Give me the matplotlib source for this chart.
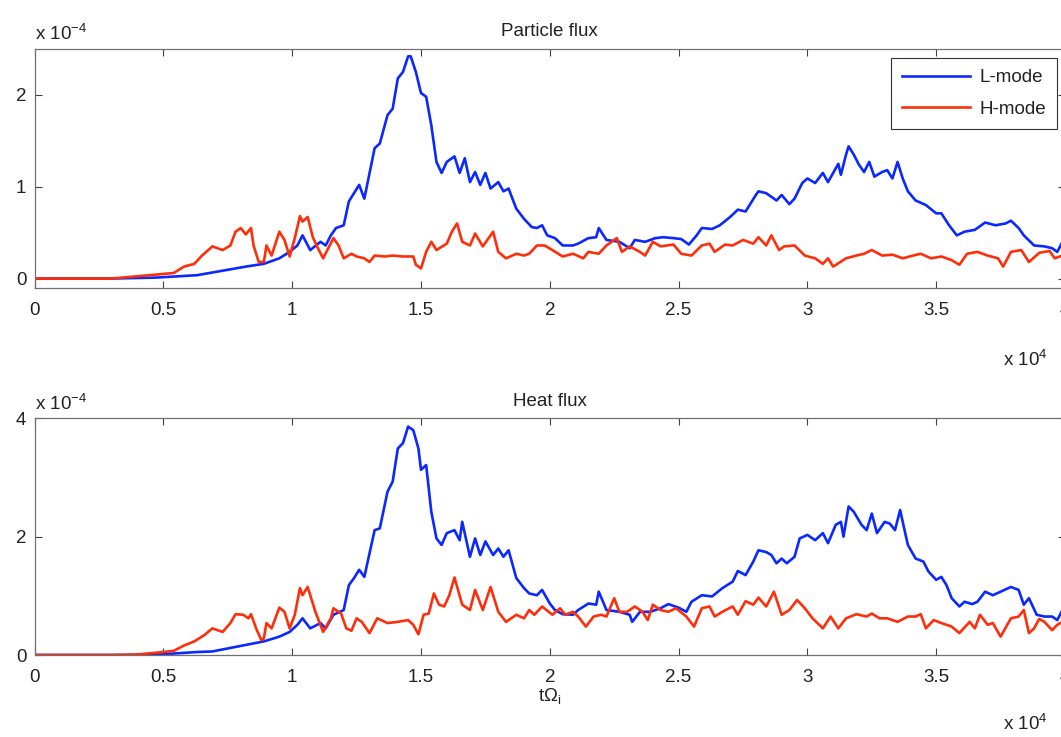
import matplotlib
matplotlib.use("Agg")
import matplotlib.pyplot as plt

plt.rcParams['font.family'] = ['Liberation Sans', 'DejaVu Sans']
plt.rcParams['mathtext.fontset'] = 'custom'
plt.rcParams['mathtext.rm'] = 'Liberation Sans'
plt.rcParams['mathtext.it'] = 'Liberation Sans'
plt.rcParams['mathtext.default'] = 'regular'

# ---------------- data (t in units of 1e4, flux in units of 1e-4) ----------------
pf_L_t = [0, 0.3, 0.47, 0.63, 0.76, 0.82, 0.89, 0.95, 0.99, 1.02, 1.04, 1.07, 1.11, 1.13,
          1.15, 1.17, 1.2, 1.22, 1.26, 1.28, 1.32, 1.34, 1.37, 1.39, 1.41, 1.43, 1.45, 1.46,
          1.48, 1.5, 1.52, 1.54, 1.56, 1.58, 1.6, 1.63, 1.65, 1.67, 1.69, 1.71, 1.73, 1.75,
          1.77, 1.8, 1.82, 1.84, 1.87, 1.9, 1.93, 1.95, 1.97, 1.99, 2.02, 2.05, 2.09, 2.11,
          2.15, 2.18, 2.19, 2.22, 2.27, 2.31, 2.33, 2.37, 2.41, 2.44, 2.48, 2.51, 2.54, 2.57,
          2.59, 2.63, 2.66, 2.7, 2.73, 2.76, 2.8, 2.81, 2.84, 2.88, 2.9, 2.93, 2.95, 2.98,
          3.0, 3.03, 3.06, 3.08, 3.1, 3.12, 3.13, 3.15, 3.16, 3.18, 3.2, 3.22, 3.24, 3.26,
          3.29, 3.31, 3.33, 3.35, 3.37, 3.39, 3.42, 3.46, 3.5, 3.52, 3.55, 3.58, 3.61, 3.65,
          3.69, 3.73, 3.77, 3.79, 3.82, 3.84, 3.88, 3.92, 3.95, 3.97, 3.99, 4.0]
pf_L_v = [0, 0, 0.01, 0.036, 0.1, 0.13, 0.16, 0.22, 0.29, 0.36, 0.47, 0.31, 0.4, 0.36,
          0.47, 0.55, 0.58, 0.84, 1.02, 0.87, 1.42, 1.47, 1.78, 1.85, 2.18, 2.25, 2.42, 2.42,
          2.25, 2.02, 1.98, 1.67, 1.27, 1.15, 1.27, 1.33, 1.15, 1.31, 1.05, 1.16, 1.02, 1.15,
          0.98, 1.05, 0.95, 0.98, 0.76, 0.65, 0.56, 0.55, 0.58, 0.47, 0.44, 0.36, 0.36, 0.38,
          0.44, 0.45, 0.55, 0.42, 0.4, 0.33, 0.42, 0.4, 0.44, 0.45, 0.44, 0.43, 0.37, 0.47,
          0.55, 0.54, 0.58, 0.67, 0.75, 0.73, 0.91, 0.95, 0.93, 0.85, 0.91, 0.81, 0.87, 1.04,
          1.09, 1.04, 1.15, 1.05, 1.15, 1.25, 1.13, 1.35, 1.44, 1.35, 1.24, 1.16, 1.27, 1.11,
          1.16, 1.18, 1.09, 1.27, 1.09, 0.95, 0.85, 0.8, 0.71, 0.71, 0.58, 0.47, 0.51, 0.53,
          0.61, 0.58, 0.6, 0.63, 0.55, 0.47, 0.36, 0.35, 0.33, 0.29, 0.4, 0.42]

pf_H_t = [0, 0.3, 0.46, 0.54, 0.58, 0.62, 0.65, 0.69, 0.73, 0.76, 0.78, 0.8, 0.82, 0.84,
          0.85, 0.87, 0.89, 0.9, 0.92, 0.95, 0.97, 0.99, 1.01, 1.03, 1.04, 1.06, 1.08, 1.1,
          1.12, 1.14, 1.16, 1.18, 1.2, 1.23, 1.25, 1.28, 1.3, 1.32, 1.36, 1.39, 1.43, 1.47,
          1.48, 1.5, 1.52, 1.54, 1.56, 1.6, 1.62, 1.64, 1.66, 1.69, 1.71, 1.74, 1.78, 1.8,
          1.83, 1.87, 1.9, 1.92, 1.95, 1.98, 2.01, 2.05, 2.09, 2.13, 2.15, 2.19, 2.22, 2.26,
          2.28, 2.31, 2.35, 2.37, 2.4, 2.43, 2.48, 2.51, 2.55, 2.59, 2.62, 2.64, 2.68, 2.71,
          2.75, 2.79, 2.81, 2.84, 2.86, 2.89, 2.91, 2.95, 2.99, 3.03, 3.06, 3.08, 3.1, 3.15,
          3.19, 3.22, 3.25, 3.29, 3.33, 3.37, 3.41, 3.44, 3.48, 3.52, 3.56, 3.59, 3.62, 3.66,
          3.7, 3.74, 3.76, 3.79, 3.83, 3.86, 3.9, 3.94, 3.96, 3.99, 4.0]
pf_H_v = [0, 0, 0.04, 0.06, 0.13, 0.16, 0.25, 0.35, 0.31, 0.36, 0.51, 0.55, 0.48, 0.55,
          0.36, 0.18, 0.18, 0.36, 0.25, 0.51, 0.42, 0.24, 0.44, 0.68, 0.62, 0.67, 0.45, 0.33,
          0.22, 0.33, 0.44, 0.36, 0.22, 0.27, 0.24, 0.22, 0.18, 0.25, 0.24, 0.25, 0.24, 0.24,
          0.15, 0.11, 0.29, 0.4, 0.31, 0.38, 0.51, 0.6, 0.4, 0.36, 0.49, 0.35, 0.51, 0.29,
          0.22, 0.27, 0.25, 0.27, 0.36, 0.36, 0.31, 0.24, 0.27, 0.22, 0.29, 0.27, 0.36, 0.44,
          0.29, 0.35, 0.29, 0.25, 0.4, 0.35, 0.37, 0.27, 0.25, 0.36, 0.38, 0.29, 0.37, 0.36,
          0.42, 0.38, 0.45, 0.36, 0.47, 0.31, 0.35, 0.36, 0.25, 0.22, 0.16, 0.22, 0.13, 0.22,
          0.25, 0.27, 0.31, 0.25, 0.26, 0.22, 0.25, 0.27, 0.22, 0.24, 0.2, 0.15, 0.27, 0.29,
          0.25, 0.22, 0.13, 0.29, 0.31, 0.18, 0.28, 0.3, 0.22, 0.25, 0.3]

hf_L_t = [0, 0.3, 0.45, 0.56, 0.63, 0.69, 0.76, 0.82, 0.89, 0.95, 0.99, 1.02, 1.04, 1.07,
          1.11, 1.13, 1.16, 1.2, 1.22, 1.24, 1.26, 1.28, 1.32, 1.34, 1.37, 1.39, 1.41, 1.43,
          1.45, 1.47, 1.49, 1.5, 1.52, 1.54, 1.56, 1.58, 1.6, 1.63, 1.65, 1.66, 1.69, 1.71,
          1.73, 1.75, 1.78, 1.8, 1.82, 1.84, 1.87, 1.9, 1.92, 1.95, 1.97, 2.0, 2.02, 2.05,
          2.09, 2.11, 2.15, 2.18, 2.19, 2.22, 2.27, 2.31, 2.32, 2.35, 2.39, 2.43, 2.46, 2.5,
          2.53, 2.55, 2.59, 2.63, 2.67, 2.71, 2.73, 2.76, 2.79, 2.81, 2.84, 2.86, 2.88, 2.9,
          2.92, 2.95, 2.97, 3.0, 3.03, 3.06, 3.08, 3.11, 3.13, 3.14, 3.16, 3.18, 3.21, 3.23,
          3.25, 3.27, 3.3, 3.32, 3.34, 3.36, 3.37, 3.39, 3.42, 3.45, 3.47, 3.5, 3.52, 3.54,
          3.56, 3.59, 3.61, 3.64, 3.66, 3.69, 3.72, 3.75, 3.79, 3.82, 3.84, 3.86, 3.89, 3.92,
          3.95, 3.97, 3.99, 4.0]
hf_L_v = [0, 0, 0.0, 0.03, 0.05, 0.06, 0.12, 0.17, 0.23, 0.31, 0.39, 0.51, 0.62, 0.45,
          0.54, 0.45, 0.68, 0.76, 1.18, 1.3, 1.44, 1.32, 2.11, 2.14, 2.76, 2.93, 3.49, 3.58,
          3.86, 3.8, 3.49, 3.13, 3.21, 2.42, 1.97, 1.86, 2.06, 2.11, 1.94, 2.25, 1.66, 1.97,
          1.69, 1.92, 1.69, 1.8, 1.66, 1.77, 1.3, 1.13, 1.04, 1.01, 1.1, 0.87, 0.76, 0.69,
          0.68, 0.76, 0.87, 0.85, 1.07, 0.76, 0.73, 0.68, 0.56, 0.73, 0.73, 0.79, 0.86, 0.8,
          0.73, 0.9, 1.01, 0.99, 1.13, 1.24, 1.42, 1.35, 1.58, 1.77, 1.74, 1.69, 1.55, 1.63,
          1.55, 1.66, 1.97, 2.03, 1.94, 2.06, 1.89, 2.2, 2.25, 2.0, 2.51, 2.42, 2.2, 2.11,
          2.39, 2.06, 2.25, 2.22, 2.11, 2.45, 2.25, 1.86, 1.63, 1.58, 1.41, 1.27, 1.32, 1.18,
          0.96, 0.82, 0.9, 0.86, 0.9, 1.07, 1.01, 1.07, 1.15, 1.1, 0.85, 0.96, 0.68, 0.65,
          0.65, 0.59, 0.76, 0.8]

hf_H_t = [0, 0.3, 0.4, 0.5, 0.54, 0.58, 0.62, 0.66, 0.69, 0.73, 0.76, 0.78, 0.81, 0.83,
          0.84, 0.86, 0.88, 0.89, 0.9, 0.92, 0.95, 0.97, 0.99, 1.01, 1.03, 1.04, 1.06, 1.09,
          1.12, 1.15, 1.16, 1.19, 1.21, 1.23, 1.25, 1.27, 1.3, 1.33, 1.37, 1.41, 1.45, 1.47,
          1.49, 1.51, 1.53, 1.55, 1.57, 1.59, 1.61, 1.63, 1.66, 1.69, 1.71, 1.74, 1.77, 1.8,
          1.83, 1.87, 1.9, 1.92, 1.94, 1.97, 2.01, 2.04, 2.06, 2.09, 2.11, 2.14, 2.17, 2.2,
          2.22, 2.25, 2.27, 2.3, 2.33, 2.36, 2.38, 2.4, 2.43, 2.46, 2.49, 2.53, 2.56, 2.59,
          2.62, 2.64, 2.67, 2.71, 2.73, 2.76, 2.79, 2.81, 2.84, 2.87, 2.9, 2.93, 2.96, 2.99,
          3.02, 3.06, 3.09, 3.12, 3.15, 3.19, 3.23, 3.25, 3.28, 3.31, 3.35, 3.39, 3.42, 3.44,
          3.46, 3.49, 3.52, 3.56, 3.59, 3.63, 3.65, 3.67, 3.7, 3.72, 3.75, 3.79, 3.82, 3.84,
          3.86, 3.88, 3.9, 3.92, 3.95, 3.97, 3.99, 4.0]
hf_H_v = [0, 0, 0.01, 0.05, 0.07, 0.16, 0.23, 0.34, 0.45, 0.39, 0.54, 0.69, 0.68, 0.62,
          0.69, 0.45, 0.25, 0.28, 0.54, 0.45, 0.8, 0.73, 0.45, 0.68, 1.13, 1.01, 1.15, 0.73,
          0.39, 0.62, 0.79, 0.7, 0.45, 0.41, 0.62, 0.56, 0.37, 0.62, 0.54, 0.56, 0.59, 0.51,
          0.35, 0.68, 0.7, 1.04, 0.85, 0.82, 1.01, 1.31, 0.85, 0.76, 1.1, 0.76, 1.15, 0.73,
          0.56, 0.68, 0.62, 0.76, 0.68, 0.82, 0.68, 0.79, 0.68, 0.73, 0.65, 0.48, 0.65, 0.68,
          0.65, 0.96, 0.73, 0.73, 0.82, 0.73, 0.59, 0.85, 0.76, 0.73, 0.79, 0.65, 0.48, 0.79,
          0.82, 0.65, 0.73, 0.82, 0.68, 0.91, 0.85, 0.97, 0.82, 1.07, 0.68, 0.76, 0.93, 0.79,
          0.62, 0.45, 0.65, 0.45, 0.62, 0.69, 0.65, 0.7, 0.62, 0.62, 0.56, 0.65, 0.65, 0.69,
          0.45, 0.59, 0.54, 0.48, 0.37, 0.56, 0.45, 0.68, 0.51, 0.54, 0.31, 0.62, 0.65, 0.76,
          0.37, 0.45, 0.61, 0.56, 0.42, 0.51, 0.56, 0.6]

titles = ["Particle flux", "Heat flux"]
series_labels = ["L-mode", "H-mode"]
x_ticks = [0, 0.5, 1, 1.5, 2, 2.5, 3, 3.5, 4]
x_ticklabels = ["0", "0.5", "1", "1.5", "2", "2.5", "3", "3.5", "4"]
y_ticks_top = [0, 1, 2]
y_ticks_bottom = [0, 2, 4]

# ---------------- figure ----------------
W, H = 1061, 737
fig = plt.figure(figsize=(W / 100, H / 100), dpi=100)

blue = '#0a28ff'
red = '#ff2e0a'
txt = '#222222'
spine = '#707070'
fs = 13.5


def px_axes(l, t, r, b):
    return [l / W, 1 - b / H, (r - l) / W, (b - t) / H]


ax1 = fig.add_axes(px_axes(34.6, 49, 1065, 287.7))
ax2 = fig.add_axes(px_axes(34.6, 418.3, 1065, 655))

lw = 1.9
ax1.plot(pf_L_t, pf_L_v, color=blue, lw=lw, label=series_labels[0])
ax1.plot(pf_H_t, pf_H_v, color=red, lw=lw, label=series_labels[1])
ax2.plot(hf_L_t, hf_L_v, color=blue, lw=lw)
ax2.plot(hf_H_t, hf_H_v, color=red, lw=lw)

ax1.set_ylim(-0.1, 2.5)
ax2.set_ylim(0, 4)
ax1.set_yticks(y_ticks_top)
ax2.set_yticks(y_ticks_bottom)

for ax, title in zip([ax1, ax2], titles):
    ax.set_xlim(0, 4)
    ax.set_xticks(x_ticks)
    ax.set_xticklabels(x_ticklabels)
    ax.tick_params(direction='in', length=5, width=0.8, color='#404040',
                   top=True, right=True, labelsize=fs, labelcolor=txt)
    ax.tick_params(axis='x', pad=10)
    ax.tick_params(axis='y', pad=6)
    for s in ax.spines.values():
        s.set_color(spine)
        s.set_linewidth(0.9)
    ax.set_title(title, fontsize=fs, color=txt, pad=9)
    # exponent labels
    ax.text(0.0, 1.02, r'x 10$^{-4}$', transform=ax.transAxes, ha='left', va='bottom',
            fontsize=fs, color=txt)

# x 10^4 labels (right, below tick labels)
fig.text(1003 / W, 1 - 360 / H, r'x 10$^{4}$', ha='left', va='center', fontsize=fs, color=txt)
fig.text(1003 / W, 1 - 724 / H, r'x 10$^{4}$', ha='left', va='center', fontsize=fs, color=txt)

ax2.set_xlabel(r'$t\Omega_i$', fontsize=fs, color=txt, labelpad=0)

leg = ax1.legend(loc='upper right', bbox_to_anchor=(1057 / W, 1 - 58 / H),
                 bbox_transform=fig.transFigure, borderaxespad=0, fontsize=fs,
                 handlelength=3.6, handletextpad=0.5, labelspacing=0.75,
                 fancybox=False, framealpha=1, edgecolor='#333333',
                 borderpad=0.6)
leg.get_frame().set_linewidth(0.8)
for t in leg.get_texts():
    t.set_color(txt)

fig.savefig('out.png', dpi=100)
